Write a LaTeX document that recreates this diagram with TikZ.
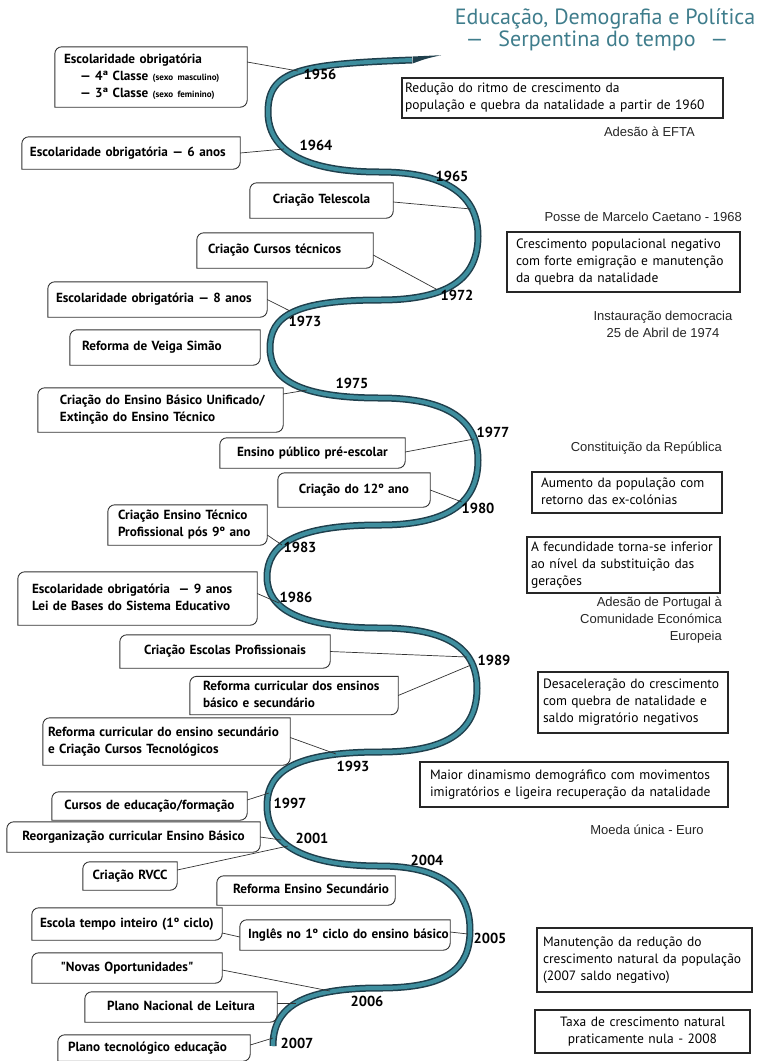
\documentclass[tikz,border=0pt]{standalone}
\usepackage{fontspec}
\usetikzlibrary{calc}
\newfontfamily\lf{PT Sans}
\newfontfamily\pf{Liberation Sans}
\definecolor{tealmid}{HTML}{3E8E9E}
\definecolor{tealdark}{HTML}{1F3F4C}
\definecolor{titlec}{HTML}{3F7D8C}
\newcommand\leaf[1]{\draw[leafline] ($(#1.north west)+(7,0)$) -- (#1.north east) -- ($(#1.south east)+(0,-7)$) arc[start angle=0,end angle=-90,radius=7pt] -- (#1.south west) -- ($(#1.north west)+(0,7)$) arc[start angle=180,end angle=90,radius=7pt] -- cycle;}
\newcommand\smalltxt[1]{{\fontsize{9}{10}\selectfont #1}}
\newcommand\lns[1]{\begin{tabular}{@{}l@{}}#1\end{tabular}}
\newcommand\clns[1]{\begin{tabular}{@{}c@{}}#1\end{tabular}}
\begin{document}
\begin{tikzpicture}[x=1pt,y=-1pt,
 lbox/.style={font=\lf\bfseries\fontsize{13.2}{17}\selectfont, inner xsep=3pt, inner ysep=2pt, align=left},
 lboxc/.style={lbox, align=center},
 rbox/.style={draw=black!85, line width=1.1pt, font=\lf\fontsize{13.5}{17}\selectfont, inner xsep=3pt, inner ysep=2pt, align=left},
 pol/.style={font=\pf\fontsize{13}{17}\selectfont, text=black!85, inner sep=0pt},
 yr/.style={font=\lf\bfseries\fontsize{14.5}{16}\selectfont, inner sep=0pt},
 conn/.style={draw=black!80, line width=0.7pt},
 leafline/.style={draw=black!80, line width=0.9pt},
 ttl/.style={font=\lf\fontsize{22}{24}\selectfont, text=titlec, inner sep=0pt},
 serp/.style={draw=tealmid, line width=4pt, preaction={draw=tealdark, line width=7pt}}
]
\fill[white] (0,0) rectangle (759,1061);
\path[use as bounding box] (0,0) rectangle (759,1061);

% serpentine
\path[serp] (412,60) .. controls (300,64) and (268,70) .. (268,112)
 .. controls +(0,36) and +(-80,0) .. (380,172)
 .. controls +(70,0) and +(0,-38) .. (478,236)
 .. controls +(0,40) and +(72,0) .. (380,300)
 .. controls +(-85,0) and +(0,-32) .. (270,348)
 .. controls +(0,32) and +(-80,0) .. (380,398)
 .. controls +(70,0) and +(0,-38) .. (478,460)
 .. controls +(0,40) and +(72,0) .. (380,525)
 .. controls +(-85,0) and +(0,-32) .. (267,577)
 .. controls +(0,32) and +(-80,0) .. (380,628)
 .. controls +(70,0) and +(0,-38) .. (477,688)
 .. controls +(0,40) and +(72,0) .. (380,752)
 .. controls +(-85,0) and +(0,-35) .. (267,806)
 .. controls +(0,36) and +(-80,0) .. (380,866)
 .. controls +(65,0) and +(0,-38) .. (470,930)
 .. controls +(0,38) and +(68,0) .. (380,988)
 .. controls +(-80,0) and +(0,-38) .. (273,1046);
\fill[tealdark] (412.5,56.5) .. controls (426,55.8) .. (441,55.2) .. controls (426,58.6) .. (412.5,63.5) -- cycle;

% curve points
\coordinate (c56) at (298,71);
\coordinate (c64) at (284,149);
\coordinate (c65) at (471,209);
\coordinate (c72) at (436,289);
\coordinate (c73) at (290,311);
\coordinate (c75) at (307,390);
\coordinate (c77) at (474,439);
\coordinate (c80) at (462,502);
\coordinate (c83) at (282,545);
\coordinate (c86) at (279,603);
\coordinate (c89a) at (467,657);
\coordinate (c89b) at (471,665);
\coordinate (c93) at (336,754);
\coordinate (c97) at (269,793);
\coordinate (c01) at (281,840);
\coordinate (c01b) at (288,846);
\coordinate (c05) at (468,934);
\coordinate (c06) at (330,991);
\coordinate (c06b) at (296,1003);
\coordinate (c07) at (273,1038);

% title
\node[ttl] (t1) at (605,19) {Educação, Demografia e Política};
\node[ttl] (t2) at (597,41) {—\hspace{9pt} Serpentina do tempo\hspace{9pt} —};

% left boxes
\node[lbox, text width=186pt, minimum height=60pt] (A) at (151,77) {\hspace*{6pt}\lns{Escolaridade obrigatória\\\hspace*{16pt}— 4ª Classe \smalltxt{(sexo masculino)}\\\hspace*{16pt}— 3ª Classe \smalltxt{(sexo feminino)}}};
\node[lbox, text width=212pt, minimum height=32pt] (B) at (131,153) {\hspace*{5pt}\lns{Escolaridade obrigatória — 6 anos}};
\node[lboxc, text width=137pt, minimum height=35pt] (C) at (321.5,200.5) {\clns{Criação Telescola}};
\node[lbox, text width=170pt, minimum height=35pt] (D) at (285,250.5) {\hspace*{8pt}\lns{Criação Cursos técnicos}};
\node[lbox, text width=213pt, minimum height=35pt] (E) at (157.5,299.5) {\hspace*{5pt}\lns{Escolaridade obrigatória — 8 anos}};
\node[lbox, text width=184pt, minimum height=35pt] (F) at (165,347.5) {\hspace*{9pt}\lns{Reforma de Veiga Simão}};
\node[lbox, text width=239pt, minimum height=44pt] (G) at (160.5,410) {\hspace*{19pt}\lns{Criação do Ensino Básico Unificado/\\Extinção do Ensino Técnico}};
\node[lbox, text width=179pt, minimum height=30pt] (H) at (312.5,453) {\hspace*{14pt}\lns{Ensino público pré-escolar}};
\node[lboxc, text width=146pt, minimum height=34pt] (I) at (354,490) {\clns{Criação do 12º ano}};
\node[lbox, text width=153pt, minimum height=40pt] (J) at (187.5,525) {\hspace*{7pt}\lns{Criação Ensino Técnico\\Profissional pós 9º ano}};
\node[lbox, text width=233pt, minimum height=53pt] (K) at (137.5,598.5) {\hspace*{11pt}\lns{Escolaridade obrigatória \ — 9 anos\\Lei de Bases do Sistema Educativo}};
\node[lboxc, text width=204pt, minimum height=33pt] (L) at (225,651.5) {\clns{Criação Escolas Profissionais}};
\node[lbox, text width=202pt, minimum height=35pt] (M) at (294,695.5) {\hspace*{10pt}\lns{Reforma curricular dos ensinos\\básico e secundário}};
\node[lbox, text width=241pt, minimum height=47pt] (N) at (166.5,741.5) {\hspace*{2pt}\lns{Reforma curricular do ensino secundário\\e Criação Cursos Tecnológicos}};
\node[lboxc, text width=189pt, minimum height=28pt] (O) at (149.5,806) {\clns{Cursos de educação/formação}};
\node[lboxc, text width=247pt, minimum height=30pt] (P) at (133.5,837) {\clns{Reorganização curricular Ensino Básico}};
\node[lboxc, text width=88pt, minimum height=28pt] (Q) at (130,876) {\clns{Criação RVCC}};
\node[lbox, text width=172pt, minimum height=29pt] (R) at (306,890.5) {\hspace*{13pt}\lns{Reforma Ensino Secundário}};
\node[lbox, text width=184pt, minimum height=32pt] (S) at (127,924) {\hspace*{5pt}\lns{Escola tempo inteiro (1º ciclo)}};
\node[lbox, text width=204pt, minimum height=30pt] (T) at (345,935) {\hspace*{5pt}\lns{Inglês no 1º ciclo do ensino básico}};
\node[lboxc, text width=184pt, minimum height=30pt] (U) at (127,968) {\clns{"Novas Oportunidades"}};
\node[lboxc, text width=186pt, minimum height=30pt] (V) at (181,1007) {\clns{Plano Nacional de Leitura}};
\node[lbox, text width=186pt, minimum height=26pt] (W) at (154,1048) {\hspace*{7pt}\lns{Plano tecnológico educação}};
\foreach \n in {A,B,C,D,E,F,G,H,I,J,K,L,M,N,O,P,Q,R,S,T,U,V,W} {\leaf{\n}}

% right boxes
\node[rbox, text width=315pt, minimum height=40pt] (R1) at (562.5,98) {\lns{Redução do ritmo de crescimento da\\população e quebra da natalidade a partir de 1960}};
\node[rbox, text width=227pt, minimum height=60pt] (R2) at (623.5,262) {\hspace*{6pt}\lns{Crescimento populacional negativo\\com forte emigração e manutenção\\da quebra da natalidade}};
\node[rbox, text width=184pt, minimum height=41pt] (R3) at (627,492.5) {\hspace*{6pt}\lns{Aumento da população com\\retorno das ex-colónias}};
\node[rbox, text width=187pt, minimum height=56pt] (R4) at (623.5,565) {\hspace*{1pt}\lns{A fecundidade torna-se inferior\\ao nível da substituição das\\gerações}};
\node[rbox, text width=184pt, minimum height=61pt] (R5) at (633,702.5) {\hspace*{2pt}\lns{Desaceleração do crescimento\\com quebra de natalidade e\\saldo migratório negativos}};
\node[rbox, text width=302pt, minimum height=45pt] (R6) at (574,784.5) {\hspace*{7pt}\lns{Maior dinamismo demográfico com movimentos\\imigratórios e ligeira recuperação da natalidade}};
\node[rbox, text width=209pt, minimum height=64pt] (R7) at (644.5,960) {\hspace*{3pt}\lns{Manutenção da redução do\\crescimento natural da população\\(2007 saldo negativo)}};
\node[rbox, text width=209pt, minimum height=43pt, align=center] (R8) at (642.5,1031.5) {\clns{Taxa de crescimento natural\\praticamente nula - 2008}};

% political events
\node[pol, anchor=east] (P1) at (695,132) {Adesão à EFTA};
\node[pol, anchor=east] (P2) at (742,217) {Posse de Marcelo Caetano - 1968};
\node[pol, align=center] (P3) at (663,324) {Instauração democracia\\25 de Abril de 1974};
\node[pol, anchor=east] (P4) at (722,448) {Constituição da República};
\node[pol, align=right, anchor=east] (P5) at (722,620) {Adesão de Portugal à\\Comunidade Económica\\Europeia};
\node[pol] (P6) at (647,830) {Moeda única - Euro};

% years
\node[yr] (y56) at (320,74) {1956};
\node[yr] (y64) at (316,145) {1964};
\node[yr] (y65) at (452,176) {1965};
\node[yr] (y72) at (457,295) {1972};
\node[yr] (y73) at (305,321) {1973};
\node[yr] (y75) at (352,383) {1975};
\node[yr] (y77) at (493,432) {1977};
\node[yr] (y80) at (478,508) {1980};
\node[yr] (y83) at (300,547) {1983};
\node[yr] (y86) at (296,597) {1986};
\node[yr] (y89) at (494,660) {1989};
\node[yr] (y93) at (353,766) {1993};
\node[yr] (y97) at (290,803) {1997};
\node[yr] (y01) at (312,838) {2001};
\node[yr] (y04) at (427,860) {2004};
\node[yr] (y05) at (490,938) {2005};
\node[yr] (y06) at (367,1001) {2006};
\node[yr] (y07) at (297,1043) {2007};

% connectors
\draw[conn] ([yshift=15pt]A.east) -- (c56);
\draw[conn] (B.east) -- (c64);
\draw[conn] ([yshift=-1.5pt]C.east) -- (c65);
\draw[conn] ([yshift=-4.5pt]D.east) -- (c72);
\draw[conn] (E.east) -- (c73);
\draw[conn] ([yshift=16pt]G.east) -- (c75);
\draw[conn] ([yshift=1pt]H.east) -- (c77);
\draw[conn] (I.east) -- (c80);
\draw[conn] ([yshift=-10pt]J.east) -- (c83);
\draw[conn] ([yshift=5pt]K.east) -- (c86);
\draw[conn] (L.east) -- (c89a);
\draw[conn] (M.east) -- (c89b);
\draw[conn] ([yshift=4pt]N.east) -- (c93);
\draw[conn] ([yshift=6pt]O.east) -- (c97);
\draw[conn] (P.east) -- (c01);
\draw[conn] ([yshift=6pt]Q.east) -- (c01b);
\draw[conn] ([yshift=-9pt]S.east) -- ([yshift=-2pt]T.west);
\draw[conn] ([yshift=3pt]T.east) -- (c05);
\draw[conn] ([yshift=-2pt]U.east) -- (c06);
\draw[conn] ([yshift=4pt]V.east) -- (c06b);
\draw[conn] ([yshift=3pt]W.east) -- (c07);
\end{tikzpicture}
\end{document}
